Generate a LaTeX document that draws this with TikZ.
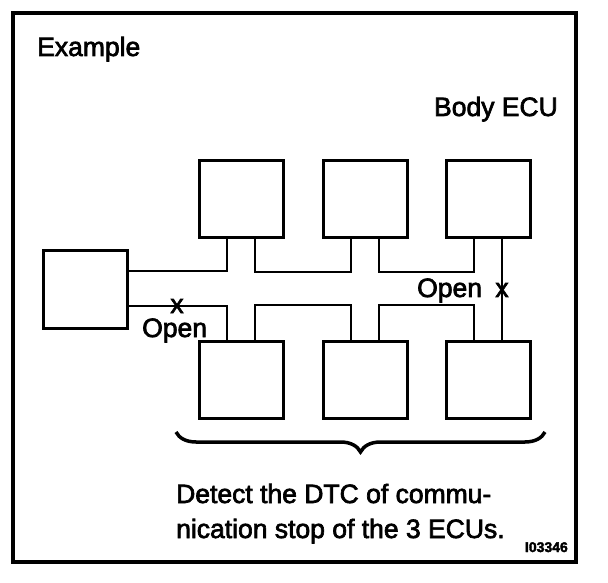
\documentclass[tikz,border=0pt]{standalone}
\usepackage{fontspec}
\setmainfont{Liberation Sans}
\newfontfamily\scanfont[FakeBold=2.5]{Liberation Sans}
\usetikzlibrary{calc,decorations.pathreplacing}

\begin{document}
\begin{tikzpicture}[x=1pt,y=1pt,
  ecu/.style={draw,line width=3pt,minimum width=84pt,minimum height=77pt,inner sep=0pt},
  bus/.style={line width=2pt},
  lbl/.style={font=\scanfont\fontsize{26.5}{35}\selectfont,inner sep=0pt}]
\useasboundingbox (0,0) rectangle (608,582);
\draw[line width=3.5pt] (13,20) rectangle (576,569);
\node[lbl,anchor=base west] (title) at (37,526) {Example};
\node[lbl,anchor=base east] (body) at (558,466) {Body ECU};
% ECUs
\node[ecu] (ecuL) at (85.5,292.5) {};
\node[ecu] (ecuT1) at (241,382.5) {};
\node[ecu] (ecuT2) at (365,382.5) {};
\node[ecu] (ecuT3) at (488,382.5) {};
\node[ecu] (ecuB1) at (241,202.5) {};
\node[ecu] (ecuB2) at (365,202.5) {};
\node[ecu] (ecuB3) at (488,202.5) {};
% bus lines
\coordinate (busU) at (0,311);
\coordinate (busL) at (0,276);
\draw[bus] (ecuL.east |- busU) -| ([xshift=-14pt]ecuT1.south);
\draw[bus] ([xshift=14pt]ecuT1.south) -- ++(0,-33) -| ([xshift=-14pt]ecuT2.south);
\draw[bus] ([xshift=14pt]ecuT2.south) -- ++(0,-33) -| ([xshift=-14pt]ecuT3.south);
\draw[bus] (ecuL.east |- busL) -| ([xshift=-14pt]ecuB1.north);
\draw[bus] ([xshift=14pt]ecuB1.north) -- ++(0,35) -| ([xshift=-14pt]ecuB2.north);
\draw[bus] ([xshift=14pt]ecuB2.north) -- ++(0,35) -| ([xshift=-14pt]ecuB3.north);
\draw[line width=1.3pt] ([xshift=14pt]ecuT3.south) -- ([xshift=14pt]ecuB3.north);
% open points
\node[lbl] (xL) at (177,276) {x};
\node[lbl,anchor=base west] (openL) at (142,245) {Open};
\node[lbl] (xR) at (502,292) {x};
\node[lbl,anchor=base west] (openR) at (417,285) {Open};
\draw[line width=3.5pt,decorate,decoration={brace,mirror,amplitude=20pt}] (176,150) -- (545,150);
\node[lbl,align=left,anchor=base west] (note) at (176,44) {Detect the DTC of commu-\\nication stop of the 3 ECUs.};
\node[font=\scanfont\bfseries\fontsize{14}{14}\selectfont,inner sep=0pt,anchor=base east] (fig) at (568,30) {I03346};
\end{tikzpicture}
\end{document}
